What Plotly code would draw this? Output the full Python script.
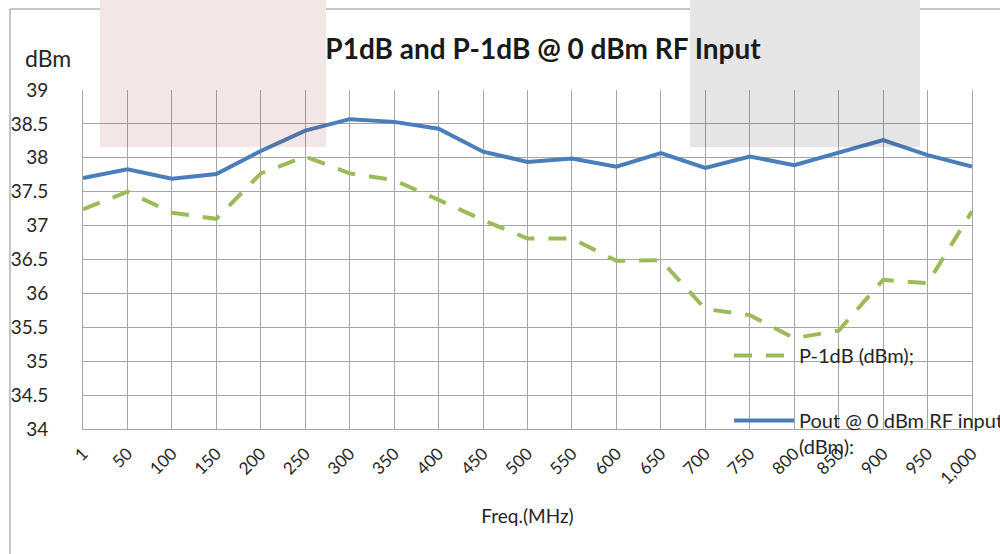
import plotly.graph_objects as go

freq_labels = ["1", "50", "100", "150", "200", "250", "300", "350", "400", "450", "500",
               "550", "600", "650", "700", "750", "800", "850", "900", "950", "1,000"]
pout = [37.70, 37.83, 37.69, 37.76, 38.10, 38.40, 38.57, 38.53, 38.43, 38.09, 37.94,
        37.99, 37.87, 38.07, 37.85, 38.02, 37.89, 38.07, 38.26, 38.04, 37.87]
p_1db = [37.24, 37.50, 37.19, 37.10, 37.77, 38.02, 37.77, 37.67, 37.38, 37.08, 36.81,
         36.81, 36.48, 36.49, 35.77, 35.68, 35.34, 35.45, 36.20, 36.15, 37.21]

W, H = 1000, 554
L, R, T, B = 83, 972, 90, 429
pw, ph = R - L, B - T

def px(x):
    return (x - L) / pw

def py(y):
    return (B - y) / ph

fig = go.Figure()
fig.add_trace(go.Scatter(
    x=freq_labels, y=p_1db, mode="lines", name="P-1dB (dBm);",
    line=dict(color="#9BBB59", width=4, dash="18px,14px"),
    legendgroup="a", legendrank=1))
fig.add_trace(go.Scatter(
    x=freq_labels, y=pout, mode="lines", name="Pout @ 0 dBm RF input<br>(dBm):",
    line=dict(color="#4A7EBB", width=4),
    legendgroup="b", legendrank=2))

font_family = "Lato, 'Open Sans', sans-serif"
grid = "#A6A6A6"
border = "#8C8C8C"

shapes = []
# outer chart border (extends past right / bottom edge)
for (x0, y0, x1, y1) in [(10, 9, 100, 9), (326, 9, 690, 9), (920, 9, 1010, 9), (10, 9, 10, 570)]:
    shapes.append(dict(type="line", xref="paper", yref="paper",
                       x0=px(x0), y0=py(y0), x1=px(x1), y1=py(y1),
                       line=dict(color=border, width=1), layer="below"))
# shaded overlays
shapes.append(dict(type="rect", xref="paper", yref="paper",
                   x0=px(100), x1=px(326), y0=py(147), y1=py(-2),
                   fillcolor="rgba(147,47,55,0.12)", line=dict(width=0), layer="above"))
shapes.append(dict(type="rect", xref="paper", yref="paper",
                   x0=px(690), x1=px(920), y0=py(147), y1=py(-2),
                   fillcolor="rgba(38,38,38,0.12)", line=dict(width=0), layer="above"))

fig.update_layout(
    width=W, height=H,
    margin=dict(l=L, r=W - R, t=T, b=H - B, autoexpand=False),
    paper_bgcolor="white", plot_bgcolor="white",
    font=dict(family=font_family, color="#262626"),
    title=dict(text="<b>P1dB and P-1dB @ 0 dBm RF Input</b>",
               x=543 / W, xanchor="center", xref="container",
               y=1 - 49 / H, yanchor="middle", yref="container",
               font=dict(size=28, color="#1a1a1a", family=font_family)),
    xaxis=dict(type="category", range=[0, 20], showgrid=True, gridcolor=grid, gridwidth=1,
               showline=True, linecolor=grid, linewidth=1, zeroline=False,
               tickangle=-45, tickfont=dict(size=17, color="#262626"),
               ticks="", ticklabelstandoff=7, automargin=False,
               title=dict(text="Freq.(MHz)", font=dict(size=19, color="#262626"), standoff=22)),
    yaxis=dict(range=[34, 39], dtick=0.5, showgrid=True, gridcolor=grid, gridwidth=1,
               showline=True, linecolor=grid, zeroline=False, mirror=True, automargin=False,
               tickfont=dict(size=19, color="#262626"), ticks="", ticklabelstandoff=30,
               tickformat="~g"),
    showlegend=True,
    legend=dict(x=px(729), xanchor="left", y=py(336), yanchor="top",
                bgcolor="rgba(0,0,0,0)", borderwidth=0,
                font=dict(size=20, color="#262626", family=font_family),
                traceorder="grouped", tracegroupgap=36, itemwidth=60,
                valign="top"),
    shapes=shapes,
    annotations=[dict(text="dBm", xref="paper", yref="paper", x=px(48), y=py(58),
                      xanchor="center", yanchor="middle", showarrow=False,
                      font=dict(size=23, color="#262626"))],
)

fig.write_html("out.html", config={"displayModeBar": False},
               post_script="document.body.style.margin='0';")
